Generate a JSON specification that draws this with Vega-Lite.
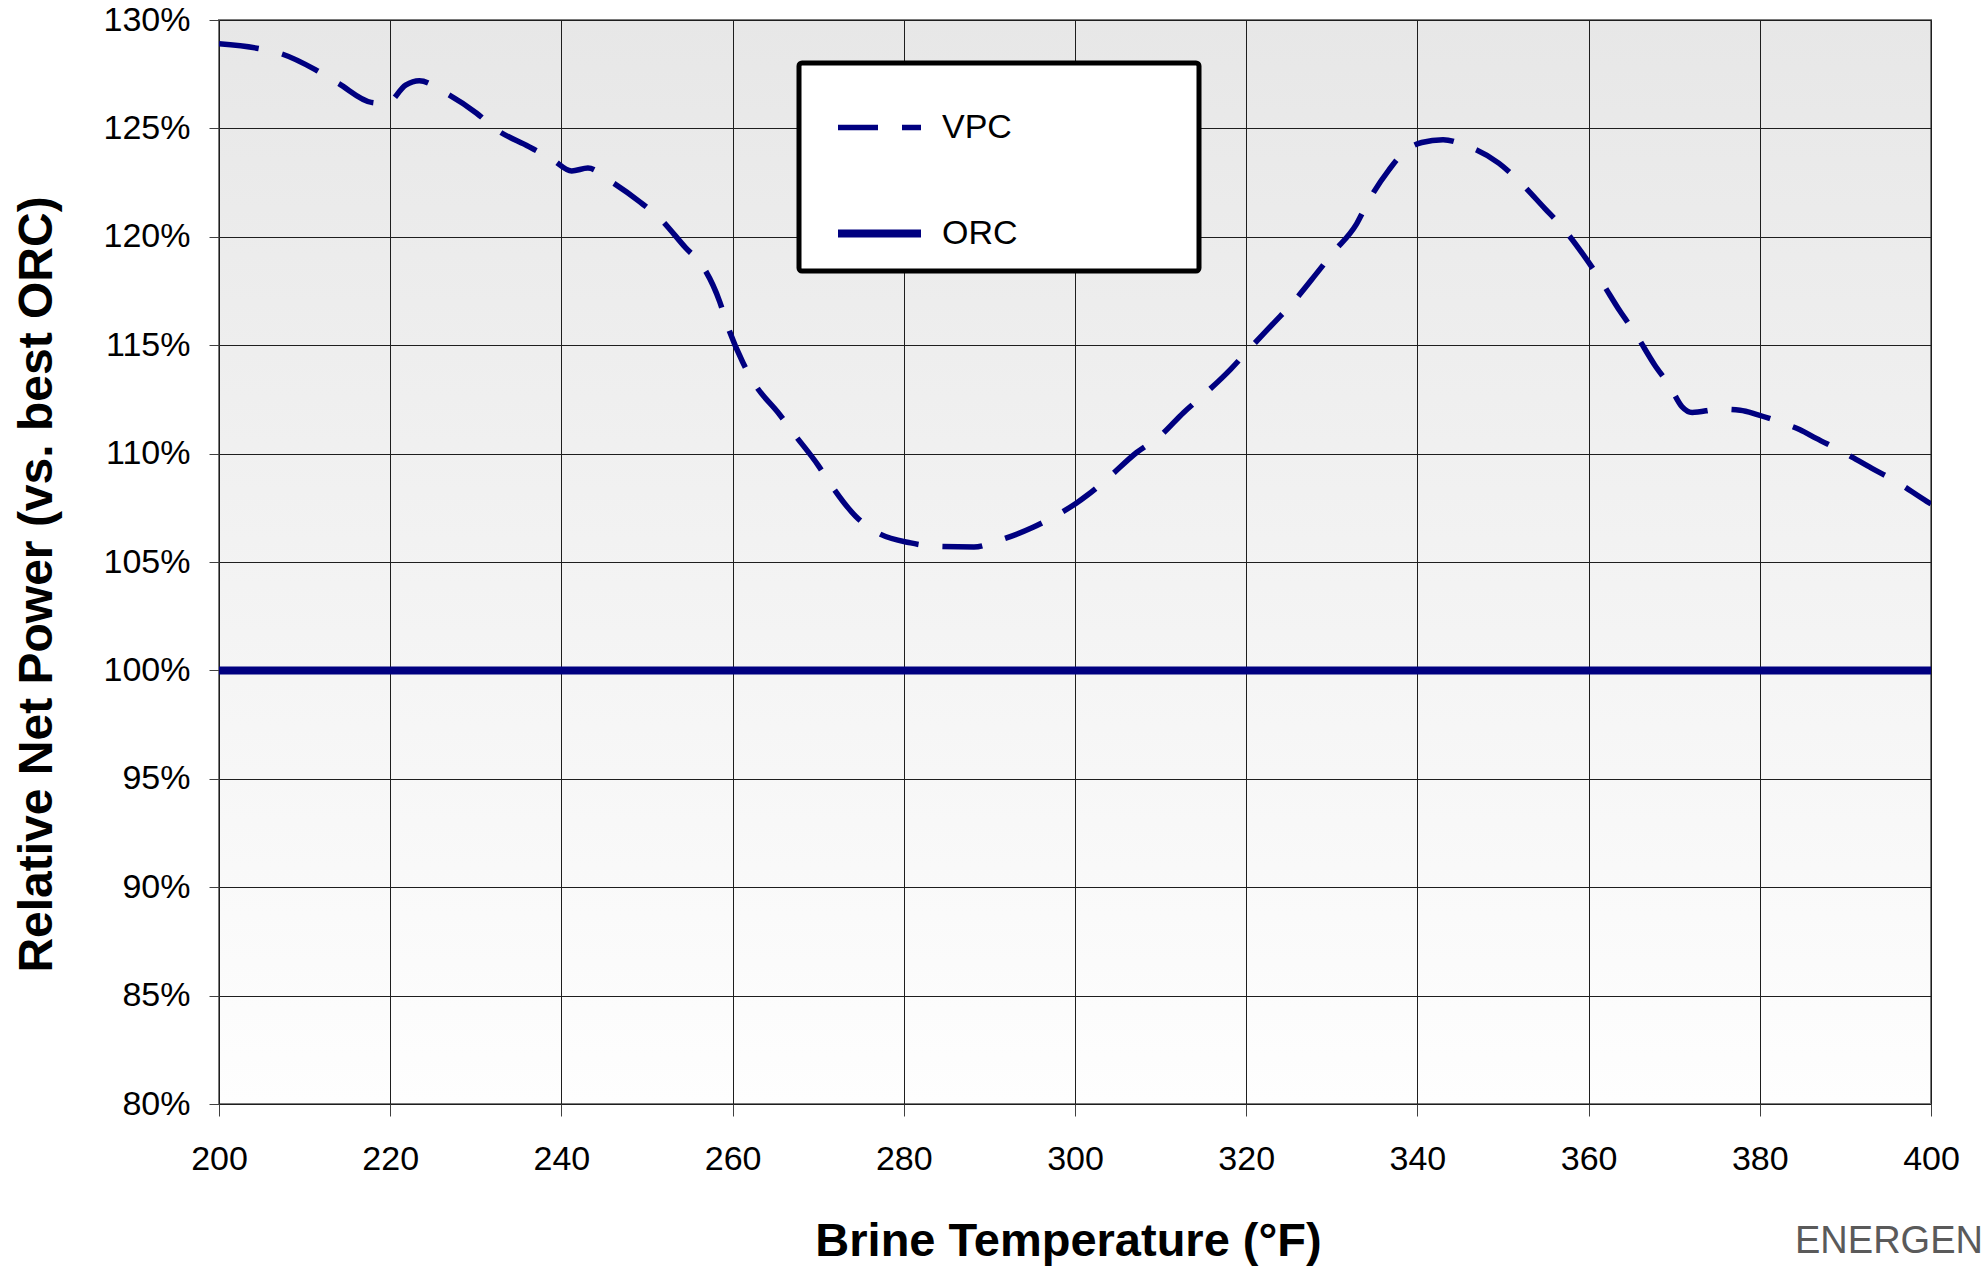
{
  "$schema": "https://vega.github.io/schema/vega-lite/v6.json",
  "width": 1712,
  "height": 1084,
  "autosize": {"type": "none"},
  "padding": {"left": 219, "top": 20, "right": 51, "bottom": 164},
  "background": "white",
  "title": {
    "text": "ENERGEN",
    "orient": "bottom",
    "anchor": "start",
    "frame": "group",
    "dx": 1576,
    "dy": -45,
    "font": "Liberation Sans",
    "fontSize": 38,
    "fontWeight": "normal",
    "color": "#5a5a5a"
  },
  "config": {
    "view": {
      "stroke": "#7a7a7a",
      "strokeWidth": 2,
      "fill": {
        "gradient": "linear",
        "x1": 0, "y1": 0, "x2": 0, "y2": 1,
        "stops": [
          {"offset": 0, "color": "#e7e7e7"},
          {"offset": 1, "color": "#fefefe"}
        ]
      }
    },
    "axis": {
      "domain": false,
      "grid": true,
      "gridColor": "#1e1e1e",
      "gridWidth": 1,
      "tickColor": "#404040",
      "tickWidth": 1,
      "labelFont": "Liberation Sans",
      "labelFontSize": 34,
      "labelColor": "black",
      "labelFlush": false,
      "labelOverlap": false,
      "titleFont": "Liberation Sans",
      "titleFontWeight": "bold",
      "titleColor": "black"
    },
    "legend": {
      "orient": "none",
      "legendX": 580,
      "legendY": 43,
      "padding": 20,
      "strokeColor": "black",
      "strokeWidth": 5,
      "fillColor": "white",
      "cornerRadius": 3,
      "symbolType": "stroke",
      "symbolSize": 6889,
      "symbolOffset": 15,
      "rowPadding": 43,
      "labelOffset": 17,
      "labelLimit": 400,
      "labelFont": "Liberation Sans",
      "labelFontSize": 34,
      "labelColor": "black"
    }
  },
  "data": {
    "values": [
      {"T": 200, "v": 1.289, "series": "VPC"},
      {"T": 204.4, "v": 1.287, "series": "VPC"},
      {"T": 207.3, "v": 1.2844, "series": "VPC"},
      {"T": 211.3, "v": 1.277, "series": "VPC"},
      {"T": 214, "v": 1.2706, "series": "VPC"},
      {"T": 217.8, "v": 1.262, "series": "VPC"},
      {"T": 219.6, "v": 1.2615, "series": "VPC"},
      {"T": 221.8, "v": 1.27, "series": "VPC"},
      {"T": 223.4, "v": 1.272, "series": "VPC"},
      {"T": 226.4, "v": 1.2665, "series": "VPC"},
      {"T": 230.1, "v": 1.257, "series": "VPC"},
      {"T": 232.4, "v": 1.2495, "series": "VPC"},
      {"T": 236.2, "v": 1.2416, "series": "VPC"},
      {"T": 238.9, "v": 1.2358, "series": "VPC"},
      {"T": 241.2, "v": 1.2304, "series": "VPC"},
      {"T": 243.1, "v": 1.2317, "series": "VPC"},
      {"T": 245.6, "v": 1.226, "series": "VPC"},
      {"T": 249.2, "v": 1.216, "series": "VPC"},
      {"T": 251.5, "v": 1.2085, "series": "VPC"},
      {"T": 254.5, "v": 1.195, "series": "VPC"},
      {"T": 256.5, "v": 1.1865, "series": "VPC"},
      {"T": 258.5, "v": 1.17, "series": "VPC"},
      {"T": 259.4, "v": 1.159, "series": "VPC"},
      {"T": 261.2, "v": 1.142, "series": "VPC"},
      {"T": 262.6, "v": 1.132, "series": "VPC"},
      {"T": 265.4, "v": 1.1185, "series": "VPC"},
      {"T": 267.2, "v": 1.109, "series": "VPC"},
      {"T": 270, "v": 1.0946, "series": "VPC"},
      {"T": 271.6, "v": 1.085, "series": "VPC"},
      {"T": 274.4, "v": 1.071, "series": "VPC"},
      {"T": 276.7, "v": 1.064, "series": "VPC"},
      {"T": 280.8, "v": 1.0588, "series": "VPC"},
      {"T": 283.8, "v": 1.0572, "series": "VPC"},
      {"T": 288.2, "v": 1.0569, "series": "VPC"},
      {"T": 290.9, "v": 1.0597, "series": "VPC"},
      {"T": 295.1, "v": 1.066, "series": "VPC"},
      {"T": 297.8, "v": 1.0715, "series": "VPC"},
      {"T": 300.1, "v": 1.077, "series": "VPC"},
      {"T": 301.5, "v": 1.081, "series": "VPC"},
      {"T": 303.8, "v": 1.0885, "series": "VPC"},
      {"T": 307.2, "v": 1.1005, "series": "VPC"},
      {"T": 309.9, "v": 1.108, "series": "VPC"},
      {"T": 312.7, "v": 1.119, "series": "VPC"},
      {"T": 315, "v": 1.127, "series": "VPC"},
      {"T": 318.2, "v": 1.139, "series": "VPC"},
      {"T": 320.3, "v": 1.148, "series": "VPC"},
      {"T": 323.4, "v": 1.161, "series": "VPC"},
      {"T": 325.3, "v": 1.169, "series": "VPC"},
      {"T": 328.2, "v": 1.183, "series": "VPC"},
      {"T": 330.1, "v": 1.1925, "series": "VPC"},
      {"T": 332.9, "v": 1.206, "series": "VPC"},
      {"T": 334.3, "v": 1.2166, "series": "VPC"},
      {"T": 336.7, "v": 1.231, "series": "VPC"},
      {"T": 338.6, "v": 1.2397, "series": "VPC"},
      {"T": 340.5, "v": 1.2435, "series": "VPC"},
      {"T": 343, "v": 1.2448, "series": "VPC"},
      {"T": 345.5, "v": 1.2423, "series": "VPC"},
      {"T": 349.5, "v": 1.234, "series": "VPC"},
      {"T": 351.8, "v": 1.226, "series": "VPC"},
      {"T": 354.9, "v": 1.213, "series": "VPC"},
      {"T": 356.8, "v": 1.205, "series": "VPC"},
      {"T": 359.6, "v": 1.1905, "series": "VPC"},
      {"T": 361.4, "v": 1.18, "series": "VPC"},
      {"T": 363.7, "v": 1.1655, "series": "VPC"},
      {"T": 365.4, "v": 1.1558, "series": "VPC"},
      {"T": 367.7, "v": 1.141, "series": "VPC"},
      {"T": 369.5, "v": 1.131, "series": "VPC"},
      {"T": 370.9, "v": 1.1217, "series": "VPC"},
      {"T": 372.1, "v": 1.119, "series": "VPC"},
      {"T": 375.3, "v": 1.1205, "series": "VPC"},
      {"T": 377.7, "v": 1.12, "series": "VPC"},
      {"T": 379.7, "v": 1.118, "series": "VPC"},
      {"T": 382.5, "v": 1.1143, "series": "VPC"},
      {"T": 384.7, "v": 1.111, "series": "VPC"},
      {"T": 386.6, "v": 1.107, "series": "VPC"},
      {"T": 389.4, "v": 1.1014, "series": "VPC"},
      {"T": 393.1, "v": 1.0932, "series": "VPC"},
      {"T": 395.8, "v": 1.0874, "series": "VPC"},
      {"T": 399.5, "v": 1.078, "series": "VPC"},
      {"T": 400, "v": 1.0768, "series": "VPC"},
      {"T": 200, "v": 1.0, "series": "ORC"},
      {"T": 400, "v": 1.0, "series": "ORC"}
    ]
  },
  "mark": {"type": "line", "interpolate": "monotone", "strokeCap": "butt", "clip": true},
  "encoding": {
    "x": {
      "field": "T",
      "type": "quantitative",
      "scale": {"domain": [200, 400], "nice": false, "zero": false},
      "axis": {
        "values": [200, 220, 240, 260, 280, 300, 320, 340, 360, 380, 400],
        "tickSize": 12,
        "labelPadding": 53,
        "labelBaseline": "alphabetic",
        "title": "Brine Temperature (°F)",
        "titleFontSize": 47,
        "titleBaseline": "alphabetic",
        "titleX": 849,
        "titleY": 151
      }
    },
    "y": {
      "field": "v",
      "type": "quantitative",
      "scale": {"domain": [0.8, 1.3], "nice": false, "zero": false},
      "axis": {
        "values": [0.8, 0.85, 0.9, 0.95, 1.0, 1.05, 1.1, 1.15, 1.2, 1.25, 1.3],
        "format": ".0%",
        "tickSize": 10,
        "labelPadding": 19,
        "title": "Relative Net Power (vs. best ORC)",
        "titleFontSize": 48,
        "titleBaseline": "alphabetic",
        "titleAngle": -90,
        "titleX": -168,
        "titleY": 564
      }
    },
    "color": {
      "field": "series",
      "type": "nominal",
      "scale": {"domain": ["VPC", "ORC"], "range": ["#000080", "#000080"]},
      "legend": {"title": null, "labelExpr": "datum.label + '                 \u200b'"}
    },
    "strokeDash": {
      "field": "series",
      "type": "nominal",
      "scale": {"domain": ["VPC", "ORC"], "range": [[40, 24], [1, 0]]},
      "legend": {"title": null, "labelExpr": "datum.label + '                 \u200b'"}
    },
    "strokeWidth": {
      "field": "series",
      "type": "ordinal",
      "scale": {"domain": ["VPC", "ORC"], "range": [5.5, 8]},
      "legend": {"title": null, "labelExpr": "datum.label + '                 \u200b'"}
    }
  }
}
